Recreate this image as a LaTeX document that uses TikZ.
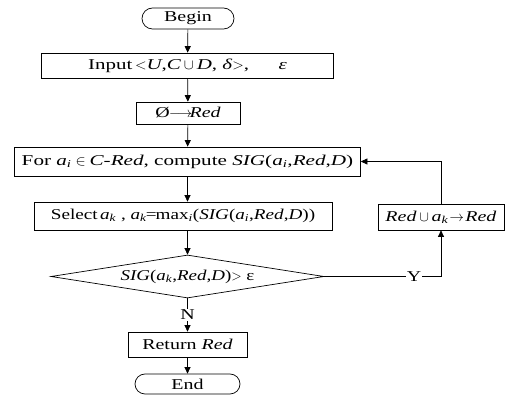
\documentclass[tikz,border=0pt]{standalone}
\usepackage{fontspec}
\setmainfont{Liberation Serif}[FakeStretch=1.33]
\usetikzlibrary{shapes.geometric,shapes.misc,arrows.meta}
\newcommand\lowidx[1]{\textsubscript{\textit{#1}}}
\newcommand\wsym[2]{\makebox[#1]{$#2$}}
\begin{document}
\begin{tikzpicture}[x=1pt,y=-1pt,
  base/.style={font=\fontsize{15}{18}\selectfont, inner sep=0pt, line width=0.7pt},
  proc/.style={base, draw, rectangle},
  term/.style={base, draw, rounded rectangle},
  decis/.style={base, draw, diamond, aspect=6.35},
  lbl/.style={font=\fontsize{15}{18}\selectfont, fill=white, inner sep=1pt},
  arr/.style={-{Triangle[length=6.5pt,width=6pt]}, line width=0.7pt},
  ln/.style={line width=0.7pt}]
\useasboundingbox (0,0) rectangle (507,395);
\node[term, minimum width=92pt, minimum height=21pt] (begin) at (188,18.5) {Begin};
\node[proc, minimum width=292pt, minimum height=25pt] (input) at (187.5,65.5)
  {\scalebox{1.05}[1]{Input\,$<$\textit{U},\textit{C}\wsym{15pt}{\cup}\textit{D}, \textit{δ}$>$,\hspace{28pt}\textit{ε}}};
\node[proc, minimum width=104pt, minimum height=22pt] (init) at (188,113)
  {Ø\wsym{22pt}{\longrightarrow}\kern-2pt\textit{Red}};
\node[proc, minimum width=346pt, minimum height=29pt] (for) at (187.5,161.5)
  {\scalebox{1.06}[1]{For \textit{a}\lowidx{i}\wsym{17pt}{\in}\textit{C-Red}, compute \textit{SIG}(\textit{a}\lowidx{i},\textit{Red},\textit{D})}};
\node[proc, minimum width=298pt, minimum height=28pt] (select) at (183,216)
  {\scalebox{0.96}[1]{Select\,\textit{a}\lowidx{k} , \textit{a}\lowidx{k}\kern-1pt=\kern-1pt max\lowidx{i}(\textit{SIG}(\textit{a}\lowidx{i},\textit{Red},\textit{D}))}};
\node[proc, minimum width=126pt, minimum height=26pt] (redu) at (441,217)
  {\textit{Red}\wsym{15pt}{\cup}\textit{a}\lowidx{k}\wsym{17pt}{\rightarrow}\textit{Red}};
\node[decis, minimum width=273pt, minimum height=43pt] (dia) at (187.5,276.5)
  {\scalebox{0.95}[1]{\textit{SIG}(\textit{a}\lowidx{k},\textit{Red},\textit{D})$>$ ε}};
\node[proc, minimum width=119pt, minimum height=25pt] (ret) at (187.5,344.5)
  {Return \textit{Red}};
\node[term, minimum width=105pt, minimum height=20pt] (end) at (187.5,384)
  {End};
\draw[arr] (begin) -- (input);
\draw[arr] (input) -- (init);
\draw[arr] (init) -- (for);
\draw[arr] (for.south) -- (for.south |- select.north);
\draw[arr] (for.south |- select.south) -- (dia.north);
\draw[arr] (dia.south) -- node[lbl] {N} (ret.north);
\draw[arr] (ret) -- (end);
\draw[arr] (dia.east) -- node[lbl, pos=0.77] {Y} (dia.east -| redu.south) -- (redu.south);
\draw[arr] (redu.north) -- (redu.north |- for.east) -- (for.east);
\end{tikzpicture}
\end{document}
